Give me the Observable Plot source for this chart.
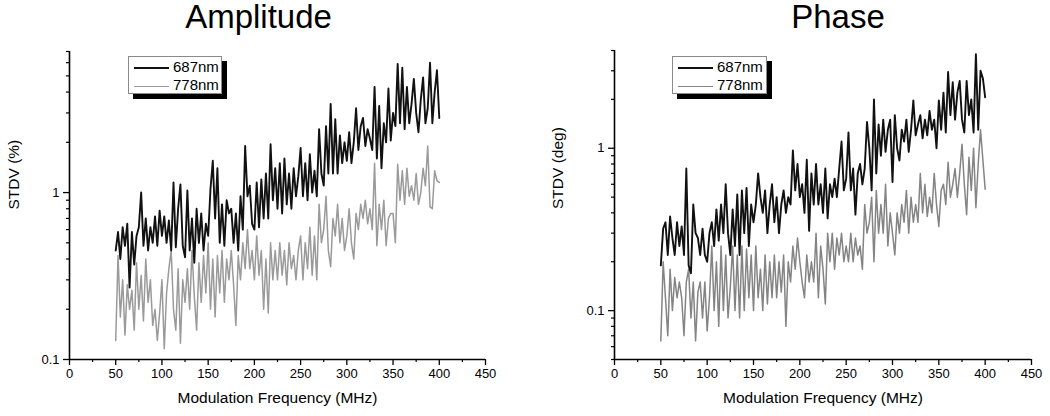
<!DOCTYPE html>
<html>
<head>
<meta charset="utf-8">
<script src="https://cdn.jsdelivr.net/npm/d3@7"></script>
<script src="https://cdn.jsdelivr.net/npm/@observablehq/plot@0.6"></script>
<style>
  html, body { margin: 0; padding: 0; background: #fff; }
  #wrap { display: flex; width: 1050px; height: 416px; font-family: "Liberation Sans", Arial, sans-serif; }
  .panel { position: relative; width: 525px; height: 416px; }
  .legend { position: absolute; top: 56px; height: 38px; background: #fff; border: 1px solid #8a8a8a; box-shadow: 5px 5px 0 #000; box-sizing: border-box; }
  .legend .ln { position: absolute; left: 5px; width: 35px; height: 0; }
  .legend .tx { position: absolute; left: 44px; font-size: 15px; line-height: 18px; color: #000; }
</style>
</head>
<body>
<div id="wrap">
  <div class="panel" id="p1"></div>
  <div class="panel" id="p2"></div>
</div>
<script>
// ---- data ----
const seriesNames = ["687nm", "778nm"];
const xTicks = [0, 50, 100, 150, 200, 250, 300, 350, 400, 450];
const xMinorTicks = [25, 75, 125, 175, 225, 275, 325, 375, 425];
const freq = d3.range(50, 400.001, 2.5); // modulation frequency grid (MHz)

const ampl687 = [
0.45,0.58,0.40,0.62,0.48,0.65,0.27,0.58,0.37,0.55,
0.62,1.00,0.48,0.70,0.45,0.62,0.50,0.72,0.48,0.78,
0.55,0.72,0.50,0.68,0.45,1.15,0.47,0.80,1.12,0.48,
0.41,1.03,0.45,0.70,0.38,0.80,0.50,0.75,0.45,0.65,
0.55,1.05,1.55,0.70,1.40,0.50,0.85,0.48,0.90,0.75,
0.80,0.50,0.75,0.45,0.95,0.60,1.90,0.95,1.10,0.65,
0.60,1.15,0.62,1.20,0.70,1.30,0.70,1.95,0.90,1.40,
0.80,1.50,0.75,1.60,0.85,1.30,0.80,1.40,0.95,1.25,
1.85,0.95,1.50,0.90,1.70,1.00,1.35,0.95,2.40,1.30,
1.10,2.50,1.30,3.40,1.30,2.75,1.30,2.20,1.50,2.00,
1.55,2.30,1.50,2.00,3.20,1.80,2.50,2.80,1.90,2.40,
2.10,1.80,4.30,1.60,3.30,1.40,2.60,2.00,4.20,2.05,
3.00,2.50,5.90,2.60,5.60,2.40,4.30,2.60,3.40,4.80,
3.00,2.30,3.60,4.90,2.60,3.20,6.00,2.60,4.00,5.40,
2.80];

const ampl778 = [
0.13,0.42,0.18,0.30,0.14,0.28,0.20,0.26,0.15,0.38,
0.20,0.32,0.17,0.40,0.22,0.30,0.16,0.20,0.13,0.19,
0.30,0.116,0.25,0.35,0.45,0.20,0.15,0.35,0.125,0.30,
0.22,0.35,0.20,0.45,0.24,0.15,0.38,0.22,0.42,0.25,
0.50,0.20,0.40,0.18,0.42,0.25,0.45,0.22,0.40,0.30,
0.45,0.28,0.16,0.42,0.30,0.50,0.35,0.60,0.35,0.45,
0.30,0.55,0.32,0.45,0.20,0.40,0.19,0.50,0.30,0.45,
0.30,0.50,0.32,0.45,0.28,0.50,0.35,0.42,0.30,0.45,
0.55,0.30,0.50,0.35,0.62,0.32,0.55,0.30,0.85,0.50,
0.60,0.95,0.45,0.36,0.70,0.55,0.85,0.50,0.70,0.45,
0.55,0.80,0.50,0.40,0.75,0.60,0.85,0.70,0.90,0.65,
0.80,0.60,1.50,0.48,0.85,0.60,0.90,0.48,0.70,0.75,
0.75,0.50,1.48,0.90,1.35,0.85,1.40,0.95,1.10,0.90,
1.30,0.85,1.00,1.40,1.10,1.90,0.82,0.80,1.35,1.18,
1.15];

const phase687 = [
0.19,0.32,0.35,0.22,0.38,0.28,0.22,0.35,0.25,0.33,
0.22,0.75,0.19,0.17,0.45,0.30,0.28,0.22,0.32,0.22,
0.20,0.30,0.35,0.25,0.42,0.27,0.45,0.30,0.60,0.30,
0.22,0.42,0.25,0.52,0.22,0.55,0.30,0.57,0.25,0.45,
0.35,0.45,0.70,0.50,0.40,0.55,0.30,0.45,0.60,0.35,
0.50,0.30,0.45,0.55,0.40,0.50,0.45,0.97,0.55,0.80,
0.50,0.60,0.40,0.85,0.31,0.70,0.45,0.80,0.45,0.60,
0.40,0.75,0.37,0.60,0.50,0.65,0.50,0.75,1.10,0.55,
0.65,1.25,0.55,0.75,0.39,0.70,0.80,0.60,0.75,1.45,
1.00,0.55,2.00,0.70,1.40,0.90,1.50,0.95,1.30,1.50,
0.62,1.60,1.00,0.84,1.30,1.10,1.50,0.95,1.30,1.97,
1.20,1.40,1.60,1.15,1.50,1.20,1.70,1.30,1.50,1.00,
1.97,1.30,2.20,1.25,2.95,1.60,2.55,1.50,2.20,2.60,
1.50,1.25,2.60,1.60,2.00,1.25,3.80,1.30,3.00,2.70,
2.06];

const phase778 = [
0.065,0.20,0.12,0.07,0.18,0.10,0.16,0.12,0.15,0.12,
0.07,0.15,0.18,0.09,0.15,0.065,0.13,0.15,0.09,0.15,
0.075,0.12,0.25,0.10,0.20,0.08,0.25,0.10,0.22,0.09,
0.14,0.25,0.10,0.22,0.09,0.25,0.10,0.24,0.12,0.22,
0.10,0.25,0.12,0.18,0.10,0.22,0.11,0.20,0.12,0.22,
0.12,0.20,0.13,0.22,0.08,0.20,0.15,0.25,0.18,0.28,
0.20,0.15,0.12,0.22,0.15,0.20,0.15,0.30,0.12,0.25,
0.18,0.11,0.30,0.20,0.30,0.18,0.28,0.22,0.30,0.20,
0.25,0.20,0.30,0.20,0.28,0.22,0.25,0.18,0.45,0.30,
0.35,0.50,0.20,0.55,0.30,0.45,0.30,0.60,0.25,0.40,
0.30,0.22,0.40,0.30,0.45,0.35,0.55,0.30,0.50,0.35,
0.45,0.35,0.70,0.40,0.60,0.38,0.50,0.40,0.70,0.45,
0.33,0.55,0.60,0.45,0.82,0.50,0.60,0.75,0.50,0.70,
1.06,0.60,0.39,0.88,0.55,1.00,0.43,0.80,1.30,0.85,
0.56];

const amplYTicks = [0.1, 1];
const amplYMinor = [0.2,0.3,0.4,0.5,0.6,0.7,0.8,0.9,2,3,4,5,6,7];
const phaseYTicks = [0.1, 1];
const phaseYMinor = [0.05,0.06,0.07,0.08,0.09,0.2,0.3,0.4,0.5,0.6,0.7,0.8,0.9,2,3,4];

function table(a, b) {
  const rows = [];
  freq.forEach((f, i) => {
    rows.push({f, v: a[i], s: seriesNames[0]});
  });
  freq.forEach((f, i) => {
    rows.push({f, v: b[i], s: seriesNames[1]});
  });
  return rows;
}

const FONT = "'Liberation Sans', Arial, sans-serif";

function panel(cfg) {
  const data = table(cfg.a, cfg.b);
  const plot = Plot.plot({
    width: 525,
    height: 416,
    marginLeft: cfg.ml,
    marginRight: cfg.mr,
    marginTop: cfg.mt,
    marginBottom: 57,
    style: {fontFamily: FONT, fontSize: "13px", color: "#000", background: "#fff", overflow: "visible"},
    x: {domain: [0, 450], label: null},
    y: {type: "log", domain: cfg.yDomain, label: null},
    marks: [
      Plot.line(data.filter(d => d.s === seriesNames[1]), {x: "f", y: "v", stroke: cfg.grayColor, strokeWidth: 1.5, clip: true}),
      Plot.line(data.filter(d => d.s === seriesNames[0]), {x: "f", y: "v", stroke: "#111", strokeWidth: 1.9, clip: true}),
      Plot.axisX({ticks: xTicks, tickSize: 6, tickPadding: 3, tickFormat: d => String(d), fontSize: 13, label: null, strokeWidth: 1.3}),
      Plot.axisX({ticks: xMinorTicks, tickSize: 3, tickFormat: () => "", label: null, strokeWidth: 1.2}),
      Plot.axisY({ticks: cfg.yTicks, tickSize: 6, tickPadding: 4, tickFormat: d => String(d), fontSize: 13, label: null, strokeWidth: 1.3}),
      Plot.axisY({ticks: cfg.yMinor, tickSize: 3, tickFormat: () => "", label: null, strokeWidth: 1.2}),
      Plot.ruleX([0], {stroke: "#000", strokeWidth: 1.6}),
      Plot.ruleY([cfg.yDomain[0]], {stroke: "#000", strokeWidth: 1.6}),
      Plot.text([cfg.title], {frameAnchor: "top", dx: cfg.titleDx, dy: 17 - cfg.mt, lineAnchor: "middle", fontSize: 33, fill: "#000"}),
      Plot.text([cfg.yLabel], {frameAnchor: "left", rotate: -90, dx: cfg.yLabelDx, dy: 4, lineAnchor: "middle", fontSize: 15.5, fill: "#000"}),
      Plot.text(["Modulation Frequency (MHz)"], {frameAnchor: "bottom", dy: 39, lineAnchor: "middle", fontSize: 15.5, fill: "#000"})
    ]
  });
  const host = document.getElementById(cfg.id);
  host.appendChild(plot);
  const lg = document.createElement("div");
  lg.className = "legend";
  lg.style.left = cfg.legLeft + "px";
  lg.style.width = cfg.legWidth + "px";
  lg.innerHTML =
    `<div class="ln" style="top:10px;border-top:2px solid #111"></div>` +
    `<div class="tx" style="top:1px">${seriesNames[0]}</div>` +
    `<div class="ln" style="top:29px;border-top:1.5px solid ${cfg.grayColor}"></div>` +
    `<div class="tx" style="top:19px">${seriesNames[1]}</div>`;
  host.appendChild(lg);
}

panel({id: "p1", a: ampl687, b: ampl778, ml: 69, mr: 40, mt: 51, yDomain: [0.1, 7],
  yTicks: amplYTicks, yMinor: amplYMinor, title: "Amplitude", titleDx: -19,
  yLabel: "STDV (%)", yLabelDx: -55, grayColor: "#9a9a9a", legLeft: 128, legWidth: 94});
panel({id: "p2", a: phase687, b: phase778, ml: 89, mr: 19, mt: 50, yDomain: [0.05, 4],
  yTicks: phaseYTicks, yMinor: phaseYMinor, title: "Phase", titleDx: 15,
  yLabel: "STDV (deg)", yLabelDx: -56, grayColor: "#848484", legLeft: 147, legWidth: 95});
</script>
</body>
</html>
